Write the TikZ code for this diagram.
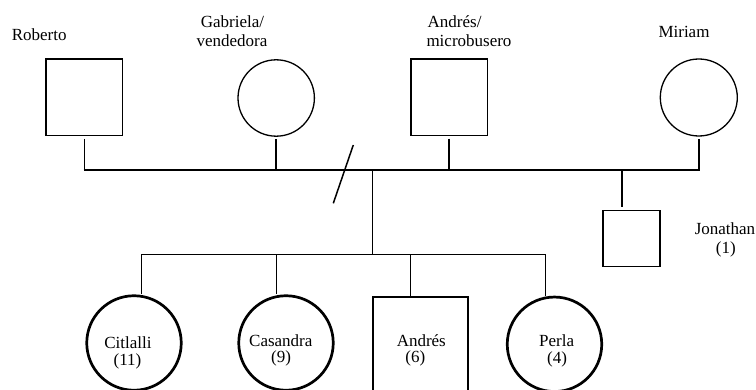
\documentclass[tikz,border=0pt]{standalone}
\usepackage{fontspec}
\setmainfont{Liberation Serif}
\begin{document}
\begin{tikzpicture}[x=1pt,y=-1pt,
  lbl/.style={font=\fontsize{17}{20}\selectfont, inner sep=0pt, anchor=base},
  lblL/.style={lbl, anchor=base west},
  thinbox/.style={draw, line width=1.3pt, rectangle, inner sep=0pt},
  thincirc/.style={draw, line width=1.3pt, circle, inner sep=0pt},
  thickcirc/.style={draw, line width=2.7pt, circle, inner sep=0pt, minimum size=94.5pt},
  thickbox/.style={draw, line width=2.7pt, rectangle, inner sep=0pt},
  link/.style={line width=1.5pt}]
\clip (0,0) rectangle (756,390);
\fill[white] (0,0) rectangle (756,390);

% parents
\node[thinbox, minimum size=76.7pt] (roberto) at (84.3,97.5) {};
\node[thincirc, minimum size=76.4pt] (gabriela) at (276.2,98) {};
\node[thinbox, minimum size=76.4pt] (andres) at (449.2,97.2) {};
\node[thincirc, minimum size=77pt] (miriam) at (698.8,97.5) {};
\node[thinbox, minimum width=57.1pt, minimum height=56pt] (jonathan) at (631.5,238.7) {};

% children
\node[thickcirc] (citlalli) at (134,343) {};
\node[thickcirc] (casandra) at (286,343) {};
\node[thickbox, minimum width=95pt, minimum height=96pt] (andresH) at (420.5,345) {};
\node[thickcirc] (perla) at (554.5,344.3) {};

% labels
\node[lbl] (tRoberto) at (39.2,40.5) {Roberto};
\node[lbl] (tGab1) at (232.5,27.3) {Gabriela/};
\node[lbl] (tGab2) at (232,46.7) {vendedora};
\node[lblL] (tAnd1) at (427.5,27.3) {Andrés/};
\node[lblL] (tAnd2) at (426.3,46.7) {microbusero};
\node[lbl] (tMiriam) at (684,37.7) {Miriam};
\node[lbl] (tJon1) at (725,234.5) {Jonathan};
\node[lbl] (tJon2) at (725.8,253.5) {(1)};
\node[lbl] (tCit1) at (128,349) {Citlalli};
\node[lbl] (tCit2) at (127.5,365.5) {(11)};
\node[lbl] (tCas1) at (280.8,346.7) {Casandra};
\node[lbl] (tCas2) at (281,362.5) {(9)};
\node[lbl] (tAH1) at (421.3,346.7) {Andrés};
\node[lbl] (tAH2) at (415.3,362.5) {(6)};
\node[lbl] (tPer1) at (556.7,346.7) {Perla};
\node[lbl] (tPer2) at (557,363) {(4)};

% couple line
\coordinate (mL) at (83.5,170);
\coordinate (mR) at (622,170);
\draw[link] (mL) -- (mR);
\draw[link, shorten <=2.5pt] (roberto.south) -- (roberto.south |- mL);
\draw[link, shorten <=2.5pt] (gabriela.south) -- (gabriela.south |- mL);
\draw[link, shorten <=2.5pt] (andres.south) -- (andres.south |- mL);
\draw[link, shorten <=2.5pt, shorten >=3pt] (miriam.south) -- (miriam.south |- mR) -- (mR) -- (mR |- jonathan.north);

% divorce slash
\coordinate (s1) at (353.3,145);
\coordinate (s2) at (333.3,203.3);
\draw[link] (s1) -- (s2);

% descent
\coordinate (dTop) at (372.3,170);
\coordinate (dBot) at (372.3,254.3);
\draw[link] (dTop) -- (dBot);
\coordinate (cL) at (141.7,254.3);
\coordinate (cR) at (545.3,254.3);
\coordinate (c2) at (276.7,254.3);
\coordinate (c3) at (410.7,254.3);
\draw[link] (cL) -- (cR);
\draw[link] (cL) -- (cL |- citlalli.north);
\draw[link] (c2) -- (c2 |- casandra.north);
\draw[link] (c3) -- (c3 |- andresH.north);
\draw[link] (cR) -- (cR |- perla.north);
\end{tikzpicture}
\end{document}
